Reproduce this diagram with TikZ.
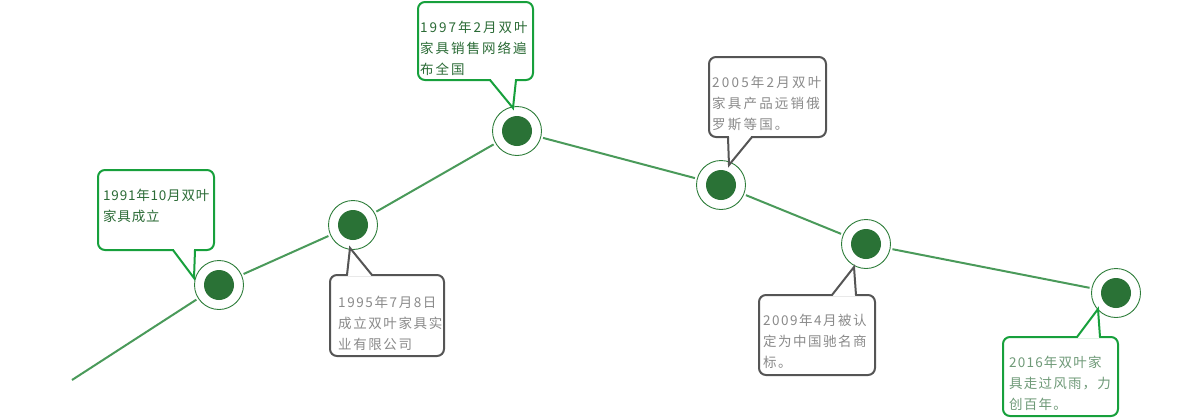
\documentclass[tikz,border=0pt]{standalone}
\usepackage{fontspec}
\setmainfont{Noto Sans CJK SC}
\definecolor{linegreen}{HTML}{4A9A5A}
\definecolor{ringgreen}{HTML}{2E7D3A}
\definecolor{dotgreen}{HTML}{2A7236}
\definecolor{boxgreen}{HTML}{17A03C}
\definecolor{boxgray}{HTML}{555555}
\definecolor{txtgreen}{HTML}{2B6B36}
\definecolor{txtgray}{HTML}{8A8A8A}
\definecolor{txtlgreen}{HTML}{6F9A78}
\makeatletter
\newcommand\lsp[2]{\@tfor\lspch:=#2\do{\lspch\kern#1}}
\makeatother
\tikzset{
  ring/.style={circle,draw=ringgreen,line width=0.9pt,fill=white,minimum size=49pt,inner sep=0pt},
  dot/.style={circle,fill=dotgreen,minimum size=30pt,inner sep=0pt},
  tl/.style={draw=linegreen,line width=2pt,shorten >=2pt,shorten <=2pt},
  boxline/.style={line width=2pt,rounded corners=7pt,fill=white},
  ptr/.style={line width=2pt,line join=miter},
  txt/.style={anchor=north west,align=left,inner sep=0pt,font=\fontsize{13.5}{21}\selectfont}
}
% #1 colour, #2 x1, #3 y1, #4 x2, #5 y2, #6 base-left x, #7 base-right x, #8 base y, #9 tip coordinate name
\newcommand\callout[9]{%
  \draw[boxline,draw=#1] (#2,#3) rectangle (#4,#5);
  \fill[white] (#6+1.2,#8-1.3) rectangle (#7-1.2,#8+1.3);
  \fill[white] (#6,#8) -- (#9) -- (#7,#8) -- cycle;
  \draw[ptr,draw=#1] (#6,#8) -- (#9) -- (#7,#8);
}
\begin{document}
\begin{tikzpicture}[x=1pt,y=-1pt]
\useasboundingbox (0,0) rectangle (1203,418);
% circles
\node[ring] (c1) at (219,285) {};
\node[ring] (c2) at (353,225) {};
\node[ring] (c3) at (517,131) {};
\node[ring] (c4) at (721,185) {};
\node[ring] (c5) at (866,244) {};
\node[ring] (c6) at (1116,293) {};
\coordinate (start) at (72,380);
% timeline
\draw[tl,shorten <=0pt] (start) -- (c1);
\draw[tl] (c1) -- (c2);
\draw[tl] (c2) -- (c3);
\draw[tl] (c3) -- (c4);
\draw[tl] (c4) -- (c5);
\draw[tl] (c5) -- (c6);
\foreach \i in {1,...,6} {\node[dot] (d\i) at (c\i) {};}
% tips
\coordinate (t1) at (194,278);
\coordinate (t2) at (350,248);
\coordinate (t3) at (513,108);
\coordinate (t4) at (729,165);
\coordinate (t5) at (854,267);
\coordinate (t6) at (1098,309);
% callouts
\callout{boxgreen}{98}{170}{214}{250}{173}{195}{250}{t1}
\callout{boxgray}{330}{275}{444}{356}{347}{372}{275}{t2}
\callout{boxgreen}{418}{2}{533}{80}{490}{516}{80}{t3}
\callout{boxgray}{709}{57}{826}{137}{728}{752}{137}{t4}
\callout{boxgray}{759}{295}{875}{375}{832}{856}{295}{t5}
\callout{boxgreen}{1003}{337}{1118}{416}{1077}{1100}{337}{t6}
% texts
\node[txt,text=txtgreen] (l1) at (103,189) {\lsp{0.8pt}{1991年10月双叶}\\\lsp{0.8pt}{家具成立}};
\node[txt,text=txtgray] (l2) at (338,296) {\lsp{1.6pt}{1995年7月8日}\\\lsp{1.6pt}{成立双叶家具实}\\\lsp{1.6pt}{业有限公司}};
\node[txt,text=txtgreen] (l3) at (420,21) {\lsp{2pt}{1997年2月双叶}\\\lsp{2pt}{家具销售网络遍}\\\lsp{2pt}{布全国}};
\node[txt,text=txtgray] (l4) at (712,76) {\lsp{2.2pt}{2005年2月双叶}\\\lsp{2.2pt}{家具产品远销俄}\\\lsp{2.2pt}{罗斯等国。}};
\node[txt,text=txtgray] (l5) at (763,314) {\lsp{1.5pt}{2009年4月被认}\\\lsp{1.5pt}{定为中国驰名商}\\\lsp{1.5pt}{标。}};
\node[txt,text=txtlgreen] (l6) at (1009,356) {\lsp{1.2pt}{2016年双叶家}\\\lsp{1.2pt}{具走过风雨，力}\\\lsp{1.2pt}{创百年。}};
\end{tikzpicture}
\end{document}
